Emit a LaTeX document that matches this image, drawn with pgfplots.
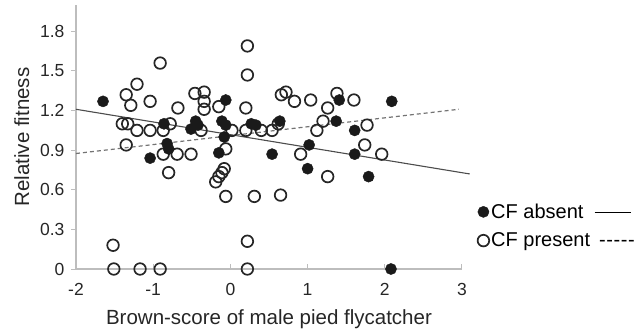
\documentclass[border=0pt]{standalone}
\usepackage{fontspec}
\setmainfont{Liberation Sans}
\usepackage{pgfplots}
\pgfplotsset{compat=1.18}
\definecolor{axgray}{HTML}{BDBDBD}
\definecolor{dotblack}{HTML}{1A1A1A}
\newcommand\hy{-\kern0.6pt}
\begin{document}
\begin{tikzpicture}
\begin{axis}[
  scale only axis, width=386pt, height=264pt,
  xmin=-2, xmax=3, ymin=0, ymax=2.0,
  axis x line=bottom, axis y line=left,
  axis line style={axgray, line width=1.3pt, -},
  xtick={-2,-1,0,1,2,3},
  ytick={0,0.3,0.6,0.9,1.2,1.5,1.8},
  yticklabels={0,0.3,0.6,0.9,1.2,1.5,1.8},
  xticklabels={-2,-1,0,1,2,3},
  x tick style={axgray, line width=1pt}, y tick style={axgray, line width=1pt},
  xtick align=inside, ytick align=outside,
  major tick length=5pt,
  ticklabel style={font=\fontsize{17.5}{20}\selectfont, text=black!85},
  xticklabel style={yshift=-11pt},
  yticklabel style={xshift=-3pt},
  /pgf/number format/assume math mode=true,
  xlabel={Brown-score of male pied flycatcher},
  ylabel={Relative fitness},
  label style={font=\fontsize{20.5}{24}\selectfont, text=black!85},
  xlabel style={yshift=-7pt},
  ylabel style={yshift=4pt},
  clip=false,
  reverse legend,
  legend style={at={(1.04,0.255)}, anchor=north west, draw=none, fill=none,
    font=\fontsize{20}{24}\selectfont, row sep=9pt,
    legend cell align=left, inner sep=0pt},
]
% regression lines
\addplot[draw=black!70, line width=1.1pt, forget plot] coordinates {(-2,1.21) (3.1,0.72)};
\addplot[draw=black!55, line width=1.2pt, dash pattern=on 4pt off 3pt, forget plot] coordinates {(-2,0.875) (2.96,1.21)};
% CF present (open)
\addplot[only marks, mark=o, mark size=5.8pt, mark options={draw=black!85, fill=white, line width=1.7pt}] coordinates {
(-0.91,1.56) (-1.21,1.40) (-1.35,1.32) (-1.29,1.24) (-1.04,1.27) (-0.68,1.22)
(-0.46,1.33) (-0.34,1.34) (-0.34,1.27) (-0.34,1.21) (-0.15,1.23)
(-1.40,1.10) (-1.33,1.10) (-1.21,1.05) (-1.04,1.05) (-0.87,1.05) (-0.78,1.10)
(-1.35,0.94) (-0.87,0.87) (-0.69,0.87) (-0.51,0.87) (-0.80,0.73)
(-0.38,1.05) (0.02,1.05) (0.20,1.05) (0.40,1.05) (-0.06,0.91)
(-0.08,0.76) (-0.11,0.73) (-0.15,0.70) (-0.19,0.66) (-0.06,0.55) (0.31,0.55) (0.65,0.56)
(0.22,1.69) (0.22,1.47) (0.20,1.22) (0.22,0.21) (0.22,0)
(0.66,1.32) (0.72,1.34) (0.83,1.27) (1.04,1.28) (1.38,1.33) (1.60,1.28) (1.26,1.22)
(1.20,1.12) (1.12,1.05) (0.54,1.05) (0.62,1.10) (1.77,1.09) (1.74,0.94) (1.96,0.87) (0.91,0.87) (1.26,0.70)
(-1.52,0.18) (-1.51,0) (-1.17,0) (-0.91,0)
};
% CF absent (filled)
\addplot[only marks, mark=*, mark size=5.6pt, mark options={draw=dotblack, fill=dotblack}] coordinates {
(-1.65,1.27) (-1.04,0.84) (-0.86,1.10) (-0.82,0.95) (-0.80,0.91)
(-0.51,1.06) (-0.45,1.12) (-0.42,1.09) (-0.15,0.88)
(-0.06,1.28) (-0.11,1.12) (-0.06,1.09) (-0.08,1.00)
(0.27,1.10) (0.33,1.09) (0.64,1.12) (0.54,0.87)
(1.02,0.94) (1.00,0.76) (1.41,1.28) (1.37,1.12) (1.61,1.05) (1.61,0.87) (1.79,0.70)
(2.09,1.27) (2.08,0)
};
\legend{{CF present \,\hy\hy\hy\hy\hy}, {CF absent \;\raisebox{0.3em}{\rule{36pt}{0.8pt}}}}
\end{axis}
\pgfresetboundingbox
\path (current axis.south west) ++(-76pt,-63pt) rectangle ++(643pt,332pt);
\end{tikzpicture}
\end{document}
